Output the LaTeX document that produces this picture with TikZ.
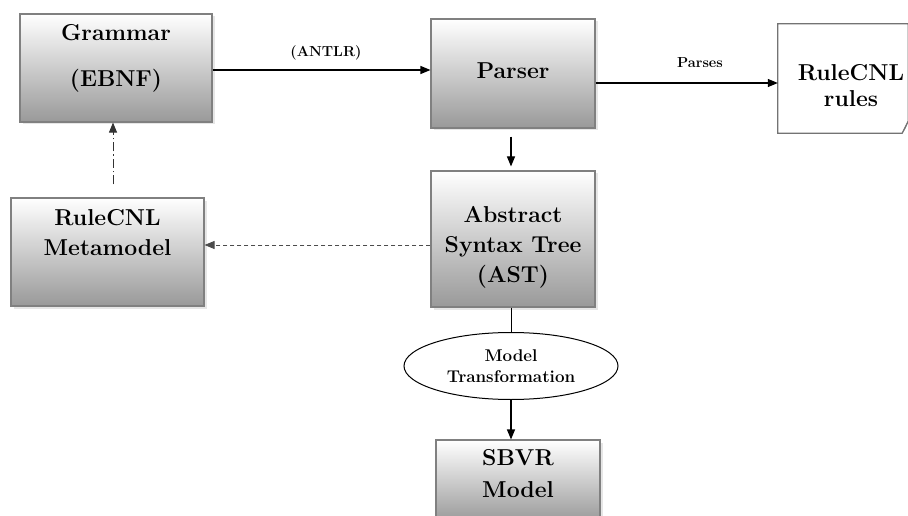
\documentclass[tikz,border=0pt]{standalone}
\usetikzlibrary{arrows.meta,shapes.geometric,shadows,calc}
\begin{document}
\begin{tikzpicture}[x=1pt,y=-1pt,
  box/.style={draw=black!50, line width=1.1pt, top color=white, bottom color=black!40,
    drop shadow={opacity=0.2, shadow xshift=2.5pt, shadow yshift=-2.5pt},
    inner sep=0pt},
  txt/.style={font=\bfseries\fontsize{23}{30}\selectfont, align=center, anchor=base, inner sep=0pt, text=black},
  lbl/.style={font=\bfseries\fontsize{14.5}{16}\selectfont, anchor=base, inner sep=0pt},
  arr/.style={-{Triangle[length=10pt,width=8pt]}, line width=1.1pt, black},
  ell/.style={ellipse, draw=black, line width=1pt, fill=white, minimum width=214pt, minimum height=67pt, inner sep=0pt,
    font=\bfseries\fontsize{17}{21}\selectfont, align=center}
]
\useasboundingbox (0,0) rectangle (908,516);

% boxes
\node[box, minimum width=192pt, minimum height=108pt] (grammar) at (116,68) {};
\node[box, minimum width=164pt, minimum height=109pt] (parser) at (513,73.5) {};
\node[box, minimum width=164pt, minimum height=136pt] (ast) at (513,239) {};
\node[box, minimum width=193pt, minimum height=108pt] (meta) at (107.5,252) {};
\node[box, minimum width=164pt, minimum height=82pt] (sbvr) at (518,481) {};
\node[ell] (trans) at (511,366) {Model\\Transformation};

% note
\node[minimum width=130pt, minimum height=109pt, inner sep=0pt] (rules) at (843,78.5) {};
\draw[black!55, line width=1.2pt, fill=white]
  (rules.north west) -- (rules.north east) -- ($(rules.south east)+(0,-12)$)
  -- ($(rules.south east)+(-6,0)$) -- (rules.south west) -- cycle;
\draw[black!55, line width=0.8pt, fill=black!12]
  ($(rules.south east)+(0,-12)$) -- ($(rules.south east)+(-3,-5)$) -- ($(rules.south east)+(-6,0)$) -- cycle;

% texts (anchor = baseline of last line)
\node[txt] (gt) at (116,87) {Grammar\\[16pt](EBNF)};
\node[txt] (pt) at (513,79) {Parser};
\node[txt] (rt) at (851,107) {RuleCNL\\[-4pt]rules};
\node[txt] (at) at (513,282) {Abstract\\Syntax Tree\\(AST)};
\node[txt] (mt) at (107.5,255) {RuleCNL\\Metamodel};
\node[txt] (st) at (518,497) {SBVR\\[2pt]Model};

% connectors
\draw[arr] (grammar.east |- 0,70) coordinate (g1) -- (parser.west |- g1);
\node[lbl] (antlr) at (326,57) {(ANTLR)};
\draw[arr] ($(parser.east)+(0,9.5)$) coordinate (p1) -- (rules.west |- p1);
\node[lbl] (parses) at (700,68) {Parses};
\draw[arr, shorten <=8pt, shorten >=4pt] ($(parser.south)+(-2,0)$) -- ($(ast.north)+(-2,0)$);
\draw[arr, black!70, dash pattern=on 4pt off 3pt, line width=0.9pt] ($(ast.west)+(0,6)$) coordinate (a1) -- (meta.east |- a1);
\draw[arr, black!80, dash pattern=on 9pt off 3pt on 1.5pt off 3pt, line width=0.9pt, shorten <=13pt]
  (meta.north -| 113,0) -- (grammar.south -| 113,0);
\draw[line width=1pt, black] ($(ast.south)+(-2,0)$) -- (trans.north);
\draw[arr] (trans.south) -- (sbvr.north -| trans.south);
\end{tikzpicture}
\end{document}
